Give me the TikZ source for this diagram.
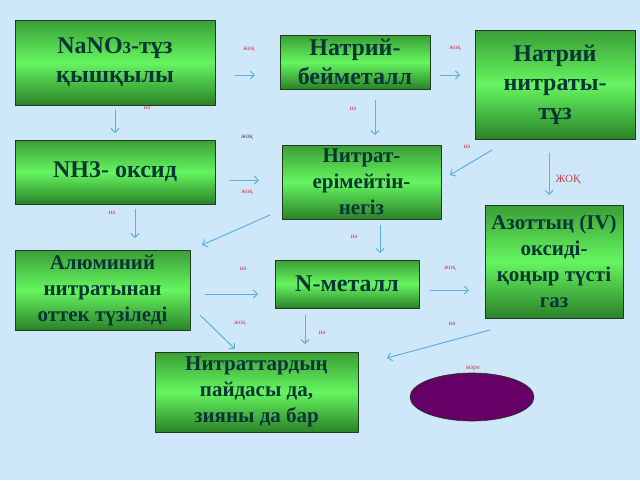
\documentclass[tikz,border=0pt]{standalone}
\usepackage{fontspec}
\setmainfont{Liberation Serif}
\usetikzlibrary{arrows.meta,calc,positioning,shapes.geometric}
\definecolor{nitSky}{HTML}{CFE8F9}
\definecolor{nitGreenTop}{HTML}{3A9E36}
\definecolor{nitGreenMid}{HTML}{66F560}
\definecolor{nitGreenLow}{HTML}{2A8228}
\definecolor{nitEdge}{HTML}{1F3A1C}
\definecolor{nitInk}{HTML}{083535}
\definecolor{nitArrow}{HTML}{5BB2E2}
\definecolor{nitRed}{HTML}{D23A4A}
\definecolor{nitNavy}{HTML}{3A4A6A}
\definecolor{nitPlum}{HTML}{660066}
\begin{document}
\begin{tikzpicture}[x=1pt,y=-1pt,>=Latex,line cap=round,line join=round]
\path[fill=nitSky] (0,0) rectangle (640,480);
\tikzset{box/.style={draw=nitEdge,line width=0.9pt,top color=nitGreenTop,bottom color=nitGreenLow,middle color=nitGreenMid,text=nitInk,font=\bfseries\fontsize{24}{29}\selectfont,align=center,inner sep=0pt},midbox/.style={box,font=\bfseries\fontsize{21}{26}\selectfont},flow/.style={draw=nitArrow,line width=1pt,-{Straight Barb[length=4pt,width=8pt]}},tag/.style={text=nitRed,font=\fontsize{7}{7}\selectfont}}
\node[box,minimum width=200pt,minimum height=85pt] (nano) at (115,62.5) {NaNO{\fontsize{17}{17}\selectfont 3}-тұз\\қышқылы};
\node[box,minimum width=150pt,minimum height=54pt] (bmet) at (355,62) {Натрий-\\бейметалл};
\node[box,minimum width=160pt,minimum height=109pt] (salt) at (555,84.5) {Натрий\\нитраты-\\тұз};
\node[box,minimum width=200pt,minimum height=64pt] (nh) at (115,172) {NH3- оксид};
\node[midbox,minimum width=159pt,minimum height=74pt] (base) at (361.5,182) {Нитрат-\\ерімейтін-\\негіз};
\node[midbox,minimum width=138pt,minimum height=113pt] (azot) at (554,261.5) {Азоттың (IV)\\оксиді-\\қоңыр түсті\\газ};
\node[midbox,minimum width=175pt,minimum height=80pt] (alum) at (102.5,290) {Алюминий\\нитратынан\\оттек түзіледі};
\node[box,minimum width=144pt,minimum height=48pt] (nmet) at (347,284) {N-металл};
\node[midbox,minimum width=203pt,minimum height=80pt] (harm) at (256.5,392) {Нитраттардың\\пайдасы да,\\зияны да бар};
\node[ellipse,draw=nitEdge,line width=0.6pt,fill=nitPlum,minimum width=124pt,minimum height=48pt,inner sep=0pt] (mare) at (472,397) {};
% arrows between the boxes
\foreach \n/\ax/\ay/\bx/\by in {1/235/75/255/75,2/115/110/115/133,3/440/75/460/75,4/375/100/375/135,5/492/150/450/175,6/549/153/549/195,7/230/180/259/180,8/135/209/135/238,9/270/215/202/245,10/380/225/380/253,11/205/294/258/294,12/200/315/235/349,13/305/315/305/344,14/430/290/469/290,15/490/330/387/358}
{\coordinate (s\n) at (\ax,\ay); \coordinate (e\n) at (\bx,\by); \draw[flow] (s\n) -- (e\n);}
\node[tag] (t1) at (249,50) {жоқ}; \node[tag] (t2) at (147,108) {иә};
\node[tag] (t3) at (455,49) {жоқ}; \node[tag] (t4) at (353,109) {иә};
\node[tag] (t5) at (467,147) {иә}; \node[tag,font=\fontsize{11}{11}\selectfont] (t6) at (568,180) {ЖОҚ};
\node[tag,text=nitNavy] (t7) at (247,138) {жоқ}; \node[tag] (t8) at (247,193) {жоқ};
\node[tag] (t9) at (112,213) {иә}; \node[tag] (t10) at (354,237) {иә};
\node[tag] (t11) at (243,269) {иә}; \node[tag] (t12) at (240,324) {жоқ};
\node[tag] (t13) at (322,333) {иә}; \node[tag] (t14) at (450,269) {жоқ};
\node[tag] (t15) at (452,324) {иә}; \node[tag] (t16) at (473,369) {мәре};
\end{tikzpicture}
\end{document}
